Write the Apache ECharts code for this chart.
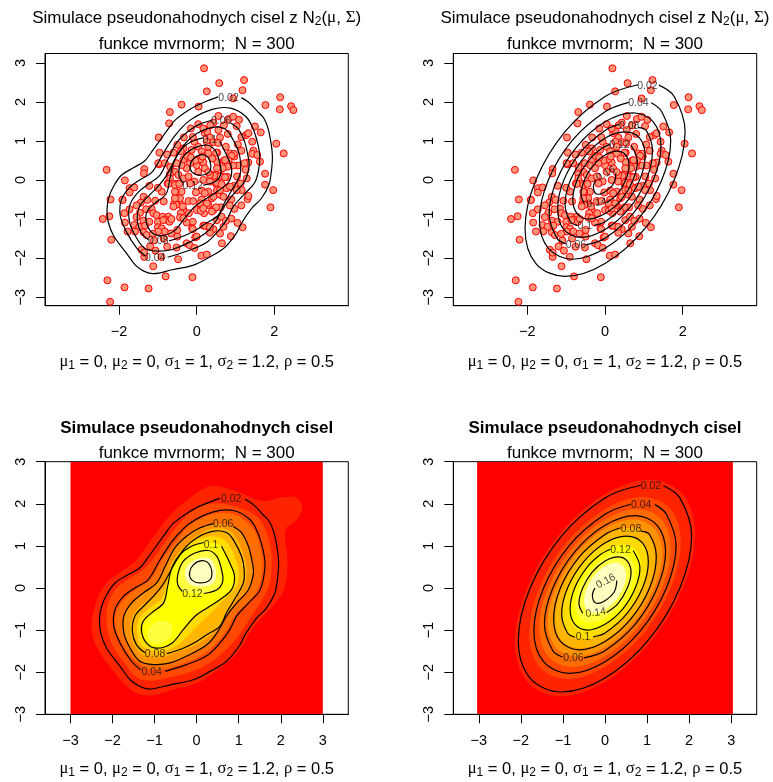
<!DOCTYPE html>
<html>
<head>
<meta charset="utf-8">
<style>html,body{margin:0;background:#fff}#c{width:773px;height:782px}</style>
<script src="https://cdn.jsdelivr.net/npm/echarts@6/dist/echarts.min.js"></script>
</head>
<body>
<div id="c"></div>
<script>
// simulated points
var simPoints = [
[.19,2.86],[.58,2.48],[1.22,2.56],[.26,2.27],[1.18,2.30],[.94,2.09],[2.15,2.12],[2.14,1.81],[2.43,1.89],[2.49,1.79],
[1.77,1.92],[-.39,1.93],[-.69,1.74],[.05,1.88],[-.71,1.45],[-.15,1.32],[-.98,1.09],[2.05,.93],[2.24,.68],[-2.32,.26],
[-.96,.70],[-.97,.40],[-1.35,.28],[-1.36,.17],[-1.85,-.01],[-2.22,-.50],[-1.91,-.51],[-2.42,-1.00],[-2.25,-.93],[-2.20,-1.53],
[-1.86,-.85],[-1.85,-1.09],[-1.78,-1.32],[-2.30,-2.57],[-1.86,-2.75],[-1.24,-2.78],[-2.23,-3.12],[-1.12,-2.21],[-.80,-2.47],[-.11,-2.49],
[-.48,-2.03],[.12,-1.94],[.26,-1.91],[-.91,-1.97],[-1.35,-1.97],[-1.42,-1.79],[-1.06,-1.81],[-.76,-1.71],[-.52,-1.73],[-.26,-1.62],
[-.18,-1.67],[-.06,-1.74],[.65,-1.62],[.88,-1.44],[1.18,-1.21],[1.90,-.70],[1.97,-.26],[1.76,-.12],[1.76,.16],[1.31,-.49],
[1.33,-.41],[.97,-.74],[.89,-.99],[.89,-.50],[1.63,.47],[1.65,1.22],[1.50,1.37],[1.27,1.15],[1.33,1.20],[1.43,.98],
[1.46,.75],[1.43,.67],[1.56,.64],[1.06,.91],[1.33,.45],[1.23,.43],[1.26,.26],[1.29,.04],[1.16,-.26],[1.13,-.09],
[1.04,.09],[1.06,.37],[.94,.37],[.97,.60],[.86,.68],[.96,.67],[.81,.45],[.70,.50],[.53,.46],[.53,.70],
[.56,1.64],[.82,1.56],[.94,1.62],[1.09,1.54],[1.03,1.38],[.43,1.47],[.56,1.28],[.80,1.18],[.60,1.09],[.34,1.09],
[.21,1.20],[.27,1.24],[.04,1.43],[.17,1.32],[-.33,1.09],[-.06,.98],[.43,.97],[.26,.98],[-.34,.81],[-.41,.73],
[-.60,.70],[-.13,.77],[.04,.85],[.30,.85],[.13,.73],[.30,.68],[.50,.70],[.90,.62],[.82,.50],[.73,.51],
[.79,.34],[.67,.30],[.52,.30],[0,.38],[.17,.45],[.09,.53],[-.04,.50],[.21,.30],[.04,.21],[-.17,.43],
[-.26,.30],[-.39,.38],[-.34,.53],[-.52,.43],[-.82,.43],[-.56,.21],[-.69,.15],[-.69,.04],[-.75,-.09],[-.60,-.09],
[-.47,.13],[-.47,-.09],[-.34,.04],[-.21,.09],[-.06,-.04],[-.17,-.09],[.17,0],[.39,.13],[.50,.13],[.64,.10],
[.79,.08],[.34,-.04],[.50,-.10],[.64,-.15],[.82,-.19],[.97,-.15],[1.03,-.26],[.52,-.26],[.30,-.30],[.13,-.27],
[-.39,-.30],[-.54,-.30],[-.43,-.47],[-.58,-.60],[-.21,-.54],[-.09,-.54],[.13,-.50],[.39,-.47],[.60,-.38],[-.39,-.64],
[-.34,-.77],[.09,-.60],[.30,-.64],[0,-.77],[.69,-.43],[.43,-.43],[.26,-.60],[.19,-.85],[.43,-.77],[.62,-.70],
[.50,-.70],[.52,-1.03],[.64,-.94],[.30,-1.20],[.17,-1.17],[.43,-1.26],[.34,-1.35],[.60,-1.37],[.69,-1.20],[-.10,-1.07],
[-.12,-1.24],[-.04,-1.47],[-1.73,-.21],[-1.61,-.19],[-1.22,-.15],[-1.73,-.32],[-1.37,-.43],[-1.44,-.58],[-1.27,-.51],[-1.07,-.53],
[-1.73,-.75],[-1.46,-.84],[-1.16,-.73],[-1.12,-.85],[-1.03,-.90],[-.88,-.94],[-.73,-.94],[-.82,-1.01],[-1.37,-1.04],[-1.22,-1.07],
[-1.0,-1.07],[-.86,-1.03],[-.70,-1.07],[-1.61,-1.15],[-1.48,-1.20],[-1.33,-1.17],[-1.0,-1.21],[-.90,-1.24],[-.82,-1.32],[-.99,-1.32],
[-1.59,-1.32],[-1.37,-1.34],[-1.29,-1.41],[-1.13,-1.38],[-.50,-1.45],[-.66,-1.37],[-.50,-1.28],[-.26,-1.09],[-.10,-1.26],[0,-1.45],
[-.53,-.64],[-.56,-.47],[-.60,-.68],[-.36,-.68],[-.41,-.85],[-.43,-.96],[-.34,-.98],[-.56,-.30],[-.73,-.10],[-.56,-.13],
[-.45,-.10],[-1.35,-1.86],[.21,-.34],[-.02,-.32],[.10,-.79],[.17,-.73],[.39,-.81],[.21,-1.17],[.34,-1.20],[.77,-.21],
[.60,-.26],[.86,-.17],[.60,.09],[.73,.07],[.45,.11],[.34,.13],[.52,-.07],[.64,-.11],[-.99,.43],[-1.91,-.51],
[-.76,.65],[-.25,.62],[-.5,.9],[-.15,.58],[-.68,.33],[-.9,-.3],[-1.0,-.2],[-.85,-.55],[-1.55,-.65],[-1.3,-.75],
[-1.55,-.95],[-1.1,-1.55],[-.85,-1.5],[-1.2,-1.7],[-.65,-1.0],[-.2,-.85],[.85,-.65],[1.15,-.65],[1.05,-1.1],[.75,-1.05],
[.35,1.4],[.7,1.4],[1.15,1.1],[1.15,.75],[-.1,1.1],[.55,.95],[.75,.85],[.15,.6],[.4,.55],[.3,.2]
];

// kernel estimate contours (panels on the left)
var kde02 = [[1.15,2.11],[1.35,1.98],[1.58,1.74],[1.73,1.58],[1.84,1.31],[1.92,.91],[1.95,.59],[1.92,.20],[1.86,-.12],[1.66,-.48],[1.43,-.71],[1.15,-1.11],[1.03,-1.35],[.71,-1.74],[.32,-1.98],[-.08,-2.18],[-.63,-2.30],[-1.11,-2.40],[-1.35,-2.34],[-1.58,-2.18],[-1.82,-1.86],[-2.14,-1.43],[-2.28,-1.07],[-2.31,-.75],[-2.26,-.44],[-2.14,-.16],[-1.94,.12],[-1.62,.32],[-1.35,.48],[-1.11,.79],[-.79,1.23],[-.55,1.54],[-.16,1.82],[.16,1.98],[.55,2.13]];
var kde04 = [[-.75,-1.98],[-.24,-1.82],[.24,-1.61],[.55,-1.31],[.79,-.99],[.95,-.67],[1.23,-.36],[1.51,-.04],[1.62,.44],[1.61,.75],[1.47,1.27],[1.27,1.62],[.87,1.84],[.40,1.81],[-.16,1.54],[-.55,1.15],[-.87,.67],[-1.15,.20],[-1.47,0],[-1.74,-.20],[-1.94,-.51],[-1.97,-.91],[-1.82,-1.31],[-1.55,-1.74],[-1.33,-1.94]];
var kde06 = [[.87,1.46],[1.07,1.31],[1.23,.99],[1.31,.67],[1.35,.36],[1.23,-.04],[.95,-.36],[.71,-.67],[.48,-1.07],[.24,-1.35],[-.16,-1.58],[-.63,-1.78],[-1.03,-1.82],[-1.35,-1.74],[-1.58,-1.43],[-1.73,-1.07],[-1.73,-.67],[-1.55,-.36],[-1.27,-.12],[-.95,.12],[-.75,.51],[-.52,.95],[-.24,1.23],[.08,1.43],[.40,1.53]];
var kde08 = [[-.71,-1.56],[-.32,-1.43],[0,-1.27],[.24,-1.11],[.55,-.91],[.71,-.59],[.87,-.32],[1.11,.12],[1.13,.44],[1.07,.75],[.87,1.15],[.71,1.32],[.40,1.35],[0,1.19],[-.28,.95],[-.52,.59],[-.79,.10],[-1.03,-.20],[-1.27,-.44],[-1.47,-.67],[-1.53,-1.03],[-1.43,-1.35],[-1.23,-1.54]];
var kde10 = [[.17,1.08],[-.12,.99],[-.40,.79],[-.59,.48],[-.69,.04],[-.79,-.36],[-1.07,-.59],[-1.27,-.79],[-1.31,-1.03],[-1.19,-1.31],[-.95,-1.43],[-.59,-1.31],[-.32,-.99],[-.04,-.67],[.24,-.48],[.55,-.28],[.83,-.04],[.90,.28],[.79,.59],[.59,.99]];
var kde12 = [[.17,-.13],[.48,-.04],[.62,.16],[.59,.44],[.48,.75],[.28,.89],[-.04,.83],[-.32,.63],[-.45,.32],[-.45,.08],[-.34,-.08]];
var kde14 = [[.12,.65],[.28,.59],[.36,.40],[.32,.20],[.08,.12],[-.12,.20],[-.17,.36],[-.08,.55]];
var kdeContours = [kde02, kde04, kde06, kde08, kde10, kde12, kde14];
var kdeLabels = [[.82,2.11,'0.02',0],[.63,1.52,'0.06',0],[.34,1.01,'0.1',0],[-.10,-.15,'0.12',0],[-.99,-1.56,'0.08',0],[-1.07,-1.99,'0.04',0]];

// theoretical density contours (panels on the right)
var den02 = [[1.39,2.43],[1.78,2.14],[2.06,1.24],[1.78,0],[1.03,-1.24],[0,-2.14],[-1.03,-2.47],[-1.78,-2.14],[-2.06,-1.24],[-1.78,0],[-1.03,1.24],[0,2.14],[.85,2.44]];
var den04 = [[1.19,1.98],[1.46,1.75],[1.69,1.02],[1.46,0],[.84,-1.02],[0,-1.75],[-.84,-2.03],[-1.46,-1.75],[-1.69,-1.02],[-1.46,0],[-.84,1.02],[0,1.75],[.61,1.99]];
var den06 = [[-.50,-1.66],[0,-1.49],[.72,-.86],[1.24,0],[1.44,.86],[1.24,1.49],[.72,1.72],[0,1.49],[-.72,.86],[-1.24,0],[-1.44,-.86],[-1.24,-1.49],[-1.01,-1.64]];
var den08 = [[.85,1.35],[1.06,1.27],[1.22,.74],[1.06,0],[.61,-.74],[0,-1.27],[-.61,-1.47],[-1.06,-1.27],[-1.22,-.74],[-1.06,0],[-.61,.74],[0,1.27],[.37,1.43]];
var den10 = [[-.28,-1.16],[0,-1.07],[.51,-.62],[.89,0],[1.03,.62],[.89,1.07],[.51,1.23],[0,1.07],[-.51,.62],[-.89,0],[-1.03,-.62],[-.89,-1.07],[-.71,-1.17]];
var den12 = [[.67,.89],[.83,.50],[.72,0],[.42,-.50],[0,-.86],[-.42,-1.0],[-.72,-.86],[-.83,-.50],[-.72,0],[-.42,.50],[-.1,.8],[.13,.92]];
var den14 = [[.04,-.58],[.31,-.37],[.53,0],[.62,.37],[.53,.64],[.31,.74],[0,.64],[-.31,.37],[-.53,0],[-.62,-.37],[-.53,-.6]];
var den16 = [[.28,.18],[.22,-.09],[-.03,-.32],[-.23,-.35],[-.30,-.17],[-.24,0]];
var denContours = [den02, den04, den06, den08, den10, den12, den14, den16];
var denLabels = [[1.09,2.41,'0.02',0],[.86,1.98,'0.04',0],[.62,1.39,'0.08',0],[.37,.89,'0.12',0],[.02,.16,'0.16',28],[-.22,-.59,'0.14',8],[-.52,-1.17,'0.1',0],[-.75,-1.66,'0.06',0]];

// colour bands of the two images, outermost first
var kdeBandColors = ['#ff0000','#ff2400','#ff4900','#ff6d00','#ff9200','#ffb600','#ffdb00','#ffff00','#ffff40','#ffff40','#ffffbf'];
var denBandColors = ['#ff0000','#ff2400','#ff4900','#ff6d00','#ff9200','#ffb600','#ffdb00','#ffff00','#ffff40','#ffffbf'];
var kdeFrame = [[-3,-3],[3,-3],[3,3],[-3,3]];
var kdeB1 = [[.24,2.40],[.55,2.41],[1.03,2.26],[1.58,2.06],[2.06,2.16],[2.38,2.14],[2.51,1.90],[2.38,1.62],[2.14,1.43],[2.10,1.15],[2.16,.67],[2.10,.04],[1.90,-.32],[1.58,-.67],[1.31,-.99],[1.03,-1.46],[.71,-1.78],[.40,-2.02],[0,-2.26],[-.55,-2.41],[-.95,-2.53],[-1.35,-2.53],[-1.66,-2.34],[-1.98,-1.98],[-2.30,-1.54],[-2.46,-1.19],[-2.50,-.83],[-2.42,-.44],[-2.30,-.12],[-2.06,.20],[-1.66,.48],[-1.43,.67],[-1.19,.99],[-.87,1.43],[-.55,1.82],[-.16,2.14]];
var kdeB2 = [[.65,2.0],[1.1,1.87],[1.45,1.68],[1.65,1.35],[1.77,.9],[1.78,.5],[1.72,.05],[1.45,-.45],[1.25,-.75],[.95,-1.2],[.6,-1.55],[.3,-1.78],[-.15,-2.0],[-.7,-2.13],[-1.15,-2.2],[-1.45,-2.1],[-1.7,-1.8],[-1.98,-1.4],[-2.12,-1.0],[-2.14,-.65],[-2.08,-.3],[-1.85,.05],[-1.55,.25],[-1.25,.45],[-1.0,.73],[-.67,1.2],[-.35,1.6],[0,1.9],[.3,2.0]];
var kdeB3 = [[.88,1.75],[1.2,1.55],[1.42,1.27],[1.55,.75],[1.56,.42],[1.45,-.04],[1.2,-.36],[.93,-.62],[.72,-.98],[.5,-1.28],[.15,-1.58],[-.3,-1.78],[-.75,-1.92],[-1.15,-1.92],[-1.5,-1.7],[-1.78,-1.3],[-1.92,-.95],[-1.9,-.55],[-1.7,-.25],[-1.42,-.02],[-1.1,.2],[-.82,.67],[-.5,1.1],[-.15,1.5],[.38,1.75]];
var kdeB5 = [[.75,1.38],[.95,1.18],[1.13,.75],[1.19,.44],[1.14,.1],[.9,-.33],[.71,-.63],[.52,-.95],[.26,-1.17],[0,-1.35],[-.4,-1.5],[-.75,-1.62],[-1.25,-1.6],[-1.47,-1.38],[-1.58,-1.03],[-1.52,-.67],[-1.3,-.4],[-.98,-.18],[-.75,.1],[-.55,.65],[-.25,1.02],[.05,1.27],[.42,1.42]];
var kdeB6 = [[.25,1.22],[.55,1.2],[.75,1.05],[.92,.7],[1.0,.36],[.95,.05],[.72,-.2],[.38,-.55],[.1,-.82],[-.2,-1.13],[-.55,-1.42],[-.95,-1.5],[-1.3,-1.38],[-1.42,-1.03],[-1.37,-.73],[-1.15,-.5],[-.85,-.28],[-.72,.05],[-.62,.5],[-.38,.87],[-.1,1.1]];
var kdeLobe = [[-1.15,-1.0],[-.95,-.8],[-.63,-.84],[-.59,-1.08],[-.83,-1.31],[-1.1,-1.27]];
var kdeB9 = [[.14,.72],[.34,.68],[.46,.4],[.4,.12],[.08,.03],[-.2,.12],[-.28,.36],[-.15,.6]];
var kdeBands = [kdeFrame, kdeB1, kdeB2, kdeB3, kde06, kdeB5, kdeB6, kde10, kdeLobe, kde12, kdeB9];

var denFrame = [[-3.04,-3],[3.04,-3],[3.04,3],[-3.04,3]];
var denB1 = [[2.14,1.29],[1.85,2.23],[1.07,2.57],[0,2.23],[-1.07,1.29],[-1.85,0],[-2.14,-1.29],[-1.85,-2.23],[-1.07,-2.57],[0,-2.23],[1.07,-1.29],[1.85,0]];
var denB2 = [[1.80,1.09],[1.56,1.87],[.90,2.16],[0,1.87],[-.90,1.09],[-1.56,0],[-1.80,-1.09],[-1.56,-1.87],[-.90,-2.16],[0,-1.87],[.90,-1.09],[1.56,0]];
var denB3 = [[1.56,.94],[1.35,1.62],[.78,1.87],[0,1.62],[-.78,.94],[-1.35,0],[-1.56,-.94],[-1.35,-1.62],[-.78,-1.87],[0,-1.62],[.78,-.94],[1.35,0]];
var denB4 = [[1.36,.82],[1.17,1.41],[.68,1.63],[0,1.41],[-.68,.82],[-1.17,0],[-1.36,-.82],[-1.17,-1.41],[-.68,-1.63],[0,-1.41],[.68,-.82],[1.17,0]];
var denB5 = [[1.19,.72],[1.03,1.24],[.60,1.43],[0,1.24],[-.60,.72],[-1.03,0],[-1.19,-.72],[-1.03,-1.24],[-.60,-1.43],[0,-1.24],[.60,-.72],[1.03,0]];
var denB6 = [[1.03,.62],[.89,1.07],[.51,1.23],[0,1.07],[-.51,.62],[-.89,0],[-1.03,-.62],[-.89,-1.07],[-.51,-1.23],[0,-1.07],[.51,-.62],[.89,0]];
var denB7 = [[.86,.52],[.74,.89],[.43,1.03],[0,.89],[-.43,.52],[-.74,0],[-.86,-.52],[-.74,-.89],[-.43,-1.03],[0,-.89],[.43,-.52],[.74,0]];
var denB8 = [[.70,.42],[.60,.72],[.35,.83],[0,.72],[-.35,.42],[-.60,0],[-.70,-.42],[-.60,-.72],[-.35,-.83],[0,-.72],[.35,-.42],[.60,0]];
var denB9 = [[.50,.30],[.43,.52],[.25,.60],[0,.52],[-.25,.30],[-.43,0],[-.50,-.30],[-.43,-.52],[-.25,-.60],[0,-.52],[.25,-.30],[.43,0]];
var denBands = [denFrame, denB1, denB2, denB3, denB4, denB5, denB6, denB7, denB8, denB9];

var xTicksTop = [-2, 0, 2];
var yTicksTop = [-3, -2, -1, 0, 1, 2, 3];
var ticksBottom = [-3, -2, -1, 0, 1, 2, 3];

var FONT = '"Liberation Sans", Arial, sans-serif';
var paramText = '{g|μ}{s|1}{t| = 0, }{g|μ}{s|2}{t| = 0, }{g|σ}{s|1}{t| = 1, }{g|σ}{s|2}{t| = 1.2, }{g|ρ}{t| = 0.5}';
var mainTop = '{t|Simulace pseudonahodnych cisel z N}{s|2}{t|(}{g|μ}{t|, }{g|Σ}{t|)}';
var mainBottom = 'Simulace pseudonahodnych cisel';
var subText = 'funkce mvrnorm;  N = 300';

var richMain = {
  t: { fontFamily: FONT, fontSize: 17, color: '#000' },
  g: { fontFamily: '"Liberation Serif", serif', fontSize: 17, color: '#000' },
  s: { fontFamily: FONT, fontSize: 12, color: '#000', verticalAlign: 'bottom', padding: [7, 0, 0, 0] }
};
var richParam = {
  t: { fontFamily: FONT, fontSize: 16.5, color: '#000' },
  g: { fontFamily: '"Liberation Serif", serif', fontSize: 16.5, color: '#000' },
  s: { fontFamily: FONT, fontSize: 12, color: '#000', verticalAlign: 'bottom', padding: [7, 0, 0, 0] }
};

// one title line centred on x, middle at y
function line(text, x, y, bold, rich) {
  return {
    text: text, left: x, top: y, textAlign: 'center', textVerticalAlign: 'middle', padding: 0,
    textStyle: { fontFamily: FONT, fontSize: 17, fontWeight: bold ? 'bold' : 'normal', color: '#000', rich: rich || richMain }
  };
}

function minusFmt(v) { return String(v).replace('-', '−'); }

function xAxisOf(i, min, max, ticks) {
  return {
    gridIndex: i, type: 'value', min: min, max: max, splitLine: { show: false },
    axisLine: { show: true, onZero: false, lineStyle: { color: '#000', width: 1 } },
    axisTick: { show: true, length: 9, customValues: ticks, lineStyle: { color: '#000', width: 1 } },
    axisLabel: { show: true, customValues: ticks, margin: 19, fontFamily: FONT, fontSize: 14.5, color: '#000', formatter: minusFmt }
  };
}

function yAxisOf(i, min, max, ticks) {
  return {
    gridIndex: i, type: 'value', min: min, max: max, splitLine: { show: false },
    axisLine: { show: true, onZero: false, lineStyle: { color: '#000', width: 1 } },
    axisTick: { show: true, length: 9, customValues: ticks, lineStyle: { color: '#000', width: 1 } },
    axisLabel: { show: true, customValues: ticks, rotate: 90, margin: 17, fontFamily: FONT, fontSize: 14.5, color: '#000', formatter: minusFmt }
  };
}

function bandSeries(i, bands, colors) {
  return {
    type: 'custom', xAxisIndex: i, yAxisIndex: i, silent: true, clip: true, z: 2,
    data: bands.map(function (b, k) { return [k, 0]; }),
    encode: { x: -1, y: -1 },
    renderItem: function (params, api) {
      var k = params.dataIndex;
      return {
        type: 'polygon',
        shape: { points: bands[k].map(function (p) { return api.coord(p); }), smooth: k === 0 ? 0 : 0.35 },
        style: { fill: colors[k] }
      };
    }
  };
}

function pointSeries(i) {
  return {
    type: 'scatter', xAxisIndex: i, yAxisIndex: i, data: simPoints, silent: true, symbolSize: 7, clip: false, z: 2,
    itemStyle: { color: '#ff9478', borderColor: '#ff0000', borderWidth: 1, opacity: 1 }
  };
}

// kde14 is the only closed contour, the others stop at their label
function contourSeries(i, contours) {
  return {
    type: 'custom', xAxisIndex: i, yAxisIndex: i, silent: true, clip: true, z: 3,
    data: contours.map(function (c, k) { return [k, 0]; }),
    encode: { x: -1, y: -1 },
    renderItem: function (params, api) {
      var c = contours[params.dataIndex];
      return {
        type: c === kde14 ? 'polygon' : 'polyline',
        shape: { points: c.map(function (p) { return api.coord(p); }), smooth: 0.35 },
        style: { fill: 'none', stroke: '#000', lineWidth: 1.2 }
      };
    }
  };
}

function labelSeries(i, labels) {
  return {
    type: 'scatter', xAxisIndex: i, yAxisIndex: i, symbolSize: 1, silent: true, z: 4,
    itemStyle: { color: 'transparent' },
    data: labels.map(function (l) {
      return { value: [l[0], l[1]], name: l[2], label: { rotate: l[3] } };
    }),
    label: { show: true, position: 'inside', formatter: '{b}', fontFamily: FONT, fontSize: 10.5, color: '#111' }
  };
}

var series = [
  pointSeries(0), contourSeries(0, kdeContours), labelSeries(0, kdeLabels),
  pointSeries(1), contourSeries(1, denContours), labelSeries(1, denLabels),
  bandSeries(2, kdeBands, kdeBandColors), contourSeries(2, kdeContours), labelSeries(2, kdeLabels),
  bandSeries(3, denBands, denBandColors), contourSeries(3, denContours), labelSeries(3, denLabels)
];

var gridStyle = { show: true, borderColor: '#000', borderWidth: 1, backgroundColor: 'transparent', containLabel: false };
var chart = echarts.init(document.getElementById('c'), null, { renderer: 'canvas' });
chart.setOption({
  animation: false,
  backgroundColor: '#fff',
  title: [
    line(mainTop, 196.7, 18), line(subText, 196.7, 44), line(paramText, 196.7, 362, false, richParam),
    line(mainTop, 605, 18), line(subText, 605, 44), line(paramText, 605, 362, false, richParam),
    line(mainBottom, 196.7, 428, true), line(subText, 196.7, 453), line(paramText, 196.7, 769, false, richParam),
    line(mainBottom, 605, 428, true), line(subText, 605, 453), line(paramText, 605, 769, false, richParam)
  ],
  grid: [
    Object.assign({ left: 45, top: 53.5, width: 303.3, height: 252.2 }, gridStyle),
    Object.assign({ left: 453.3, top: 53.5, width: 303.4, height: 252.2 }, gridStyle),
    Object.assign({ left: 45, top: 461.7, width: 303.3, height: 252.6 }, gridStyle),
    Object.assign({ left: 453.3, top: 461.7, width: 303.4, height: 252.6 }, gridStyle)
  ],
  xAxis: [
    xAxisOf(0, -3.907, 3.904, xTicksTop), xAxisOf(1, -3.907, 3.904, xTicksTop),
    xAxisOf(2, -3.606, 3.606, ticksBottom), xAxisOf(3, -3.606, 3.606, ticksBottom)
  ],
  yAxis: [
    yAxisOf(0, -3.22, 3.24, yTicksTop), yAxisOf(1, -3.22, 3.24, yTicksTop),
    yAxisOf(2, -3, 3, ticksBottom), yAxisOf(3, -3, 3, ticksBottom)
  ],
  series: series
});
</script>
</body>
</html>
